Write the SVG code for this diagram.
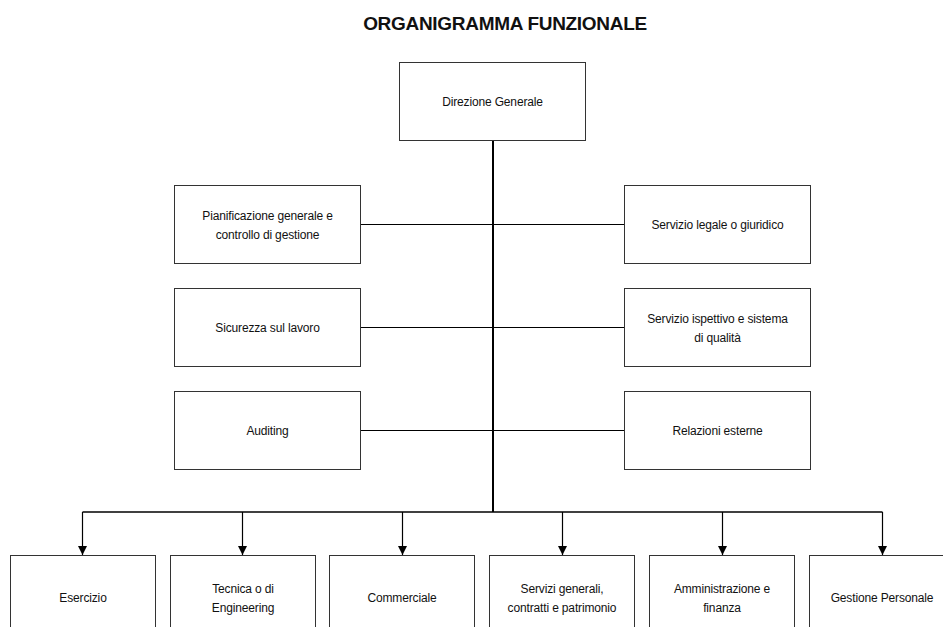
<svg xmlns="http://www.w3.org/2000/svg" width="943" height="627" viewBox="0 0 943 627">
<defs>
<style>
.box{fill:#fff;stroke:#333;stroke-width:1}
.t{font-family:"Liberation Sans",Arial,sans-serif;font-size:12px;letter-spacing:-0.15px;fill:#111;text-anchor:middle}
.title{font-family:"Liberation Sans",Arial,sans-serif;font-size:19px;font-weight:bold;letter-spacing:-0.3px;fill:#111;text-anchor:middle}
.ln{stroke:#000;fill:none}
</style>
<marker id="ah" viewBox="0 0 10 10" refX="10" refY="5" markerWidth="9" markerHeight="9" markerUnits="userSpaceOnUse" orient="auto">
<path d="M0,0 L10,5 L0,10 Z" fill="#000"/>
</marker>
</defs>
<rect width="943" height="627" fill="#fff"/>
<text class="title" x="505" y="30">ORGANIGRAMMA FUNZIONALE</text>

<g id="connectors">
<line class="ln" x1="493" y1="140" x2="493" y2="512" stroke-width="2"/>
<line class="ln" x1="360" y1="224.5" x2="624" y2="224.5" stroke-width="1"/>
<line class="ln" x1="360" y1="327.5" x2="624" y2="327.5" stroke-width="1"/>
<line class="ln" x1="360" y1="430.5" x2="624" y2="430.5" stroke-width="1"/>
<line class="ln" x1="82.5" y1="512" x2="882.5" y2="512" stroke-width="1.5"/>
<line class="ln" x1="82.5" y1="512" x2="82.5" y2="555" stroke-width="1.2" marker-end="url(#ah)"/>
<line class="ln" x1="242.5" y1="512" x2="242.5" y2="555" stroke-width="1.2" marker-end="url(#ah)"/>
<line class="ln" x1="402.5" y1="512" x2="402.5" y2="555" stroke-width="1.2" marker-end="url(#ah)"/>
<line class="ln" x1="562.5" y1="512" x2="562.5" y2="555" stroke-width="1.2" marker-end="url(#ah)"/>
<line class="ln" x1="722.5" y1="512" x2="722.5" y2="555" stroke-width="1.2" marker-end="url(#ah)"/>
<line class="ln" x1="882.5" y1="512" x2="882.5" y2="555" stroke-width="1.2" marker-end="url(#ah)"/>
</g>

<g id="direzione">
<rect class="box" x="399.5" y="62.5" width="186" height="78"/>
<text class="t" x="492.5" y="106">Direzione Generale</text>
</g>

<g id="pianificazione">
<rect class="box" x="174.5" y="185.5" width="186" height="78"/>
<text class="t" x="267.5" y="220">Pianificazione generale e</text>
<text class="t" x="267.5" y="239">controllo di gestione</text>
</g>
<g id="legale">
<rect class="box" x="624.5" y="185.5" width="186" height="78"/>
<text class="t" x="717.5" y="229">Servizio legale o giuridico</text>
</g>

<g id="sicurezza">
<rect class="box" x="174.5" y="288.5" width="186" height="78"/>
<text class="t" x="267.5" y="332">Sicurezza sul lavoro</text>
</g>
<g id="ispettivo">
<rect class="box" x="624.5" y="288.5" width="186" height="78"/>
<text class="t" x="717.5" y="323">Servizio ispettivo e sistema</text>
<text class="t" x="717.5" y="342">di qualità</text>
</g>

<g id="auditing">
<rect class="box" x="174.5" y="391.5" width="186" height="78"/>
<text class="t" x="267.5" y="435">Auditing</text>
</g>
<g id="relazioni">
<rect class="box" x="624.5" y="391.5" width="186" height="78"/>
<text class="t" x="717.5" y="435">Relazioni esterne</text>
</g>

<g id="esercizio">
<rect class="box" x="10.5" y="555.5" width="145" height="85"/>
<text class="t" x="83" y="601.5">Esercizio</text>
</g>
<g id="tecnica">
<rect class="box" x="170.5" y="555.5" width="145" height="85"/>
<text class="t" x="243" y="592.5">Tecnica o di</text>
<text class="t" x="243" y="611.5">Engineering</text>
</g>
<g id="commerciale">
<rect class="box" x="329.5" y="555.5" width="145" height="85"/>
<text class="t" x="402" y="601.5">Commerciale</text>
</g>
<g id="servizi-generali">
<rect class="box" x="489.5" y="555.5" width="145" height="85"/>
<text class="t" x="562" y="592.5">Servizi generali,</text>
<text class="t" x="562" y="611.5">contratti e patrimonio</text>
</g>
<g id="amministrazione">
<rect class="box" x="649.5" y="555.5" width="145" height="85"/>
<text class="t" x="722" y="592.5">Amministrazione e</text>
<text class="t" x="722" y="611.5">finanza</text>
</g>
<g id="gestione-personale">
<rect class="box" x="809.5" y="555.5" width="145" height="85"/>
<text class="t" x="882" y="601.5">Gestione Personale</text>
</g>
</svg>
